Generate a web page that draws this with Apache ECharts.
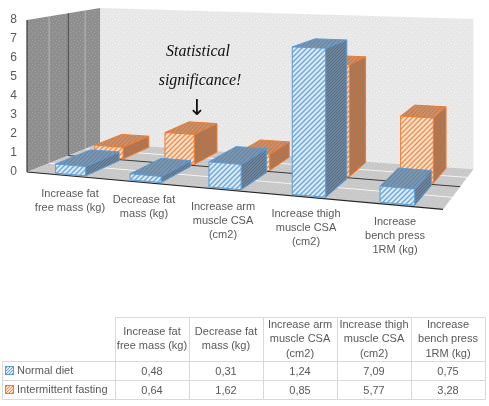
<!DOCTYPE html>
<html>
<head>
<meta charset="utf-8">
<script src="https://cdn.jsdelivr.net/npm/echarts@6/dist/echarts.min.js"></script>
<style>
html, body { margin: 0; padding: 0; background: #fff; }
#main { width: 489px; height: 406px; }
</style>
</head>
<body>
<div id="main"></div>
<script>
var categories = ['Increase fat\nfree mass (kg)', 'Decrease fat\nmass (kg)', 'Increase arm\nmuscle CSA\n(cm2)', 'Increase thigh\nmuscle CSA\n(cm2)', 'Increase\nbench press\n1RM (kg)'];
var seriesNames = ['Normal diet', 'Intermittent fasting'];
var normalDiet = [0.48, 0.31, 1.24, 7.09, 0.75];
var intermittentFasting = [0.64, 1.62, 0.85, 5.77, 3.28];
var valueMin = 0, valueMax = 8, valueStep = 1;

// label nudges for the slanted floor (layout only)
var labelPad = [[0, 0, 0, 4], [6, 12, 0, 0], [13, 18, 0, 0], [20, 16, 0, 0], [28, 2, 0, 0]];

var FONT = '"Liberation Sans", Arial, sans-serif';
var TXT = '#595959';

function stripes(bg, fg, size, lw) {
    var c = document.createElement('canvas');
    c.width = c.height = size;
    var x = c.getContext('2d');
    x.fillStyle = bg;
    x.fillRect(0, 0, size, size);
    x.strokeStyle = fg;
    x.lineWidth = lw;
    x.beginPath();
    x.moveTo(-1, size + 1); x.lineTo(size + 1, -1);
    x.moveTo(-2, 2); x.lineTo(2, -2);
    x.moveTo(size - 2, size + 2); x.lineTo(size + 2, size - 2);
    x.stroke();
    return c;
}
function dots(bg, fg) {
    var c = document.createElement('canvas');
    c.width = c.height = 6;
    var x = c.getContext('2d');
    x.fillStyle = bg;
    x.fillRect(0, 0, 6, 6);
    x.fillStyle = fg;
    [[1, 1], [4, 2], [2, 4], [5, 5]].forEach(function (p) { x.fillRect(p[0], p[1], 1, 1); });
    return c;
}
function pat(c) { return { image: c, repeat: 'repeat' }; }
function keyIcon(bg, fg, border) {
    var c = document.createElement('canvas');
    c.width = c.height = 9;
    var x = c.getContext('2d');
    var tile = stripes(bg, fg, 3, 1);
    for (var i = 0; i < 3; i++) {
        for (var j = 0; j < 3; j++) x.drawImage(tile, i * 3, j * 3);
    }
    x.strokeStyle = border;
    x.lineWidth = 1;
    x.strokeRect(0.5, 0.5, 8, 8);
    return c;
}

var looks = [
    { stroke: '#5b9bd5', z0: 0.06, z1: 0.94,
      front: pat(stripes('#dcebf8', '#6ea6db', 5, 1.4)),
      top: pat(stripes('#8197ac', '#5f87ad', 4, 1.2)),
      side: pat(stripes('#6f8498', '#546f8a', 3, 1)) },
    { stroke: '#ed7d31', z0: 1.06, z1: 1.94,
      front: pat(stripes('#fde3cf', '#f28c48', 5, 1.4)),
      top: pat(stripes('#c49474', '#d8773a', 4, 1.2)),
      side: pat(stripes('#a57c62', '#c8692e', 3, 1)) }
];

// oblique/perspective look of the Excel 3-D column chart
var K = 0.15;
function g(z) { return z * (1 + K) / (1 + K * z); }
function makeProj(ox, oy) {
    return function (u, z, h) {
        var d = u - ox, t = d / 416, gz = g(z);
        var s = (19 + 3 * t) / 19 * (1 - (0.063 + 0.02 * t) * gz);
        return [u + gz * (41.3 - 0.058 * d), oy + 0.09 * d + gz * (-16.4 - 0.0153 * d) - h * s];
    };
}
function corr(fx, xa, xb) {
    return fx - 0.000335 * (fx - xa) * (xb - fx);
}

var myChart = echarts.init(document.getElementById('main'), null, { renderer: 'canvas' });

function wallsItem(params, api) {
    var cs = params.coordSys;
    var P = makeProj(cs.x, cs.y + cs.height);
    var top = api.coord([0, valueMax]);
    var h8 = cs.y + cs.height - top[1];
    var U0 = cs.x, U1 = cs.x + cs.width + 6;
    var kids = [];
    kids.push({ type: 'polygon', shape: { points: [P(U0, 2, 0), P(U1, 2, 0), P(U1, 2, h8), P(U0, 2, h8)] },
        style: { fill: pat(dots('#e7e7e7', '#f3f3f3')) } });
    kids.push({ type: 'polygon', shape: { points: [P(U0, 0, 0), P(U0, 2, 0), P(U0, 2, h8), P(U0, 0, h8)] },
        style: { fill: pat(dots('#8e8e8e', '#a2a2a2')) } });
    kids.push({ type: 'polygon', shape: { points: [P(U0, 0, 0), P(U1, 0, 0), P(U1, 2, 0), P(U0, 2, 0)] },
        style: { fill: pat(dots('#c8c8c8', '#d2d2d2')) } });
    [[0.5, '#f4f4f4'], [1, '#3a3a3a'], [1.5, '#f4f4f4']].forEach(function (l) {
        var a = P(U0, l[0], 0), b = P(U1, l[0], 0), c = P(U0, l[0], h8);
        kids.push({ type: 'line', shape: { x1: a[0], y1: a[1], x2: b[0], y2: b[1] }, style: { stroke: l[1], lineWidth: 1 } });
        kids.push({ type: 'line', shape: { x1: a[0], y1: a[1], x2: c[0], y2: c[1] }, style: { stroke: l[1] === '#3a3a3a' ? '#4a4a4a' : '#b8b8b8', lineWidth: 1 } });
    });
    var f0 = P(U0, 0, 0), f1 = P(U1, 0, 0), ft = P(U0, 0, h8);
    kids.push({ type: 'line', shape: { x1: f0[0], y1: f0[1], x2: f1[0], y2: f1[1] }, style: { stroke: '#262626', lineWidth: 1.2 } });
    kids.push({ type: 'line', shape: { x1: f0[0], y1: f0[1], x2: ft[0], y2: ft[1] }, style: { stroke: '#3a3a3a', lineWidth: 1.2 } });
    return { type: 'group', children: kids };
}

function barItemFactory(look) {
    return function (params, api) {
        var cs = params.coordSys;
        var P = makeProj(cs.x, cs.y + cs.height);
        var i = api.value(0), v = api.value(1);
        var base = api.coord([i, 0]), tip = api.coord([i, v]);
        var h = base[1] - tip[1];
        var band = api.size([1, 0])[0];
        var xa = api.coord([0, 0])[0], xb = api.coord([categories.length - 1, 0])[0];
        var uc = corr(base[0], xa, xb);
        var t = (uc - cs.x) / 416;
        var w = band * 0.36 * (1 + 0.2 * t);
        var u0 = uc - w / 2, u1 = uc + w / 2, z0 = look.z0, z1 = look.z1;
        var st = { stroke: look.stroke, lineWidth: 1, lineJoin: 'round' };
        return { type: 'group', children: [
            { type: 'polygon', shape: { points: [P(u1, z0, 0), P(u1, z1, 0), P(u1, z1, h), P(u1, z0, h)] },
              style: Object.assign({ fill: look.side }, st) },
            { type: 'polygon', shape: { points: [P(u0, z0, h), P(u1, z0, h), P(u1, z1, h), P(u0, z1, h)] },
              style: Object.assign({ fill: look.top }, st) },
            { type: 'polygon', shape: { points: [P(u0, z0, 0), P(u1, z0, 0), P(u1, z0, h), P(u0, z0, h)] },
              style: Object.assign({ fill: look.front }, st) }
        ] };
    };
}

var tableData = [];
[normalDiet, intermittentFasting].forEach(function (arr, r) {
    arr.forEach(function (v, c) { tableData.push([c, r, v]); });
});

function tableItem(params, api) {
    var c = api.value(0), r = api.value(1), v = api.value(2);
    var p = api.coord([c, r]);
    var sz = api.size([1, 1]);
    var x0 = Math.round(p[0] - sz[0] / 2) + 0.5, y0 = Math.round(p[1] - sz[1] / 2) + 0.5;
    var cw = Math.round(sz[0]), rh = Math.round(sz[1]);
    var line = { fill: null, stroke: '#d9d9d9', lineWidth: 1 };
    var kids = [
        { type: 'rect', shape: { x: x0, y: y0, width: cw, height: rh }, style: line },
        { type: 'text', style: { text: v.toFixed(2).replace('.', ','), x: p[0], y: p[1] + 1, align: 'center', verticalAlign: 'middle',
            fill: TXT, fontSize: 11, fontFamily: FONT } }
    ];
    if (r === 0) {
        kids.push({ type: 'rect', shape: { x: x0, y: y0 - 44, width: cw, height: 44 }, style: line });
    }
    if (c === 0) {
        kids.push({ type: 'rect', shape: { x: 2.5, y: y0, width: x0 - 2.5, height: rh }, style: line });
    }
    return { type: 'group', children: kids };
}

var noteStyle = { fontStyle: 'italic', fontSize: 16, fontFamily: '"Liberation Serif", serif', fill: '#111' };

var option = {
    animation: false,
    backgroundColor: '#ffffff',
    grid: [
        { left: 27, right: 52, top: 20, bottom: 234 },
        { left: 115, right: 4, top: 361, height: 38 }
    ],
    xAxis: [{
        type: 'category',
        gridIndex: 0,
        data: categories.map(function (c, i) {
            return { value: c, textStyle: { padding: labelPad[i] } };
        }),
        axisLine: { show: false },
        axisTick: { show: false },
        axisLabel: { interval: 0, margin: 15, lineHeight: 14, fontSize: 11, color: TXT, fontFamily: FONT }
    }, {
        type: 'category',
        gridIndex: 1,
        position: 'top',
        data: categories,
        axisLine: { show: false },
        axisTick: { show: false },
        axisLabel: { interval: 0, margin: 22, verticalAlign: 'middle', lineHeight: 14.5, fontSize: 11, color: TXT, fontFamily: FONT }
    }],
    yAxis: [{
        type: 'value',
        gridIndex: 0,
        min: valueMin,
        max: valueMax,
        interval: valueStep,
        axisLine: { show: false },
        axisTick: { show: false },
        splitLine: { show: false },
        axisLabel: { margin: 10, fontSize: 12, color: TXT, fontFamily: FONT }
    }, {
        type: 'category',
        gridIndex: 1,
        inverse: true,
        data: seriesNames,
        axisLine: { show: false },
        axisTick: { show: false },
        axisLabel: {
            align: 'left',
            margin: 110,
            fontSize: 11,
            color: TXT,
            fontFamily: FONT,
            formatter: function (val, idx) { return '{k' + idx + '|}' + ' ' + val; },
            rich: {
                k0: { width: 9, height: 9, backgroundColor: { image: keyIcon('#dcebf8', '#6ea6db', '#5b9bd5') } },
                k1: { width: 9, height: 9, backgroundColor: { image: keyIcon('#fde3cf', '#f28c48', '#ed7d31') } }
            }
        }
    }],
    graphic: {
        elements: [
            { type: 'text', z: 100, x: 198, y: 52, style: Object.assign({ text: 'Statistical', align: 'center', verticalAlign: 'middle' }, noteStyle) },
            { type: 'text', z: 100, x: 200, y: 81, style: Object.assign({ text: 'significance!', align: 'center', verticalAlign: 'middle' }, noteStyle) },
            { type: 'text', z: 100, x: 197, y: 109, style: { text: '\u2193', align: 'center', verticalAlign: 'middle', fontSize: 22, fontFamily: '"DejaVu Sans", sans-serif', fill: '#111' } }
        ]
    },
    series: [
        { type: 'custom', name: 'walls', xAxisIndex: 0, yAxisIndex: 0, clip: false, silent: true, z: 1,
          data: [[0, valueMax]], renderItem: wallsItem },
        { type: 'custom', name: seriesNames[1], xAxisIndex: 0, yAxisIndex: 0, clip: false, z: 2,
          data: intermittentFasting.map(function (v, i) { return [i, v]; }),
          encode: { x: 0, y: 1 }, renderItem: barItemFactory(looks[1]) },
        { type: 'custom', name: seriesNames[0], xAxisIndex: 0, yAxisIndex: 0, clip: false, z: 3,
          data: normalDiet.map(function (v, i) { return [i, v]; }),
          encode: { x: 0, y: 1 }, renderItem: barItemFactory(looks[0]) },
        { type: 'custom', name: 'table', xAxisIndex: 1, yAxisIndex: 1, clip: false, z: 2,
          data: tableData, encode: { x: 0, y: 1 }, renderItem: tableItem }
    ]
};

myChart.setOption(option);

window.onresize = function () {
    myChart.resize();
};
</script>
</body>
</html>
